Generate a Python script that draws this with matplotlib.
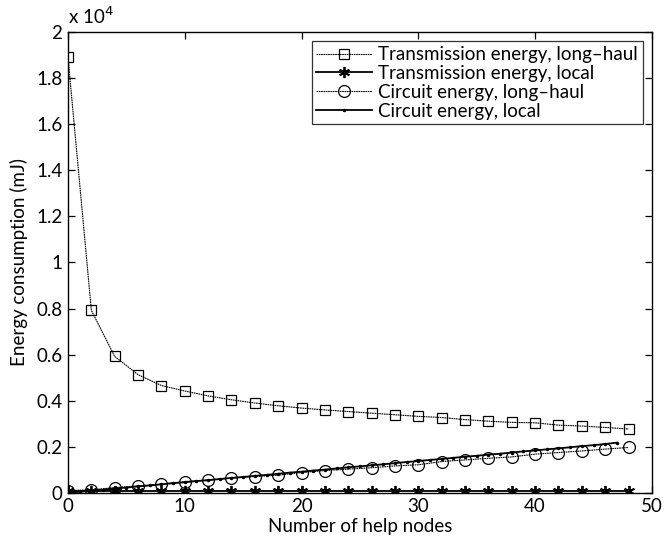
import matplotlib
matplotlib.use("Agg")
import matplotlib.pyplot as plt
from matplotlib.ticker import FixedLocator

plt.rcParams['font.family'] = ['Lato', 'DejaVu Sans']

# Data (mJ)
x_tx = [0, 2, 4, 6, 8, 10, 12, 14, 16, 18, 20, 22, 24, 26, 28, 30, 32, 34, 36, 38, 40, 42, 44, 46, 48]
tx_long = [18900, 7920, 5920, 5130, 4660, 4420, 4210, 4040, 3900, 3780, 3680, 3600, 3530, 3460, 3390,
           3320, 3270, 3180, 3110, 3060, 3040, 2940, 2900, 2840, 2770]
tx_local = [80, 80, 80, 80, 80, 80, 80, 80, 80, 80, 80, 80, 80, 80, 80, 80, 80, 80, 80, 80, 80, 80, 80, 80, 80]
circ_long = [100, 130, 230, 300, 380, 490, 560, 640, 710, 770, 880, 970, 1030, 1090, 1170, 1220,
             1360, 1430, 1500, 1560, 1680, 1750, 1820, 1900, 1970]
x_cl = list(range(0, 48))
circ_local = [0, 50, 90, 140, 190, 230, 280, 320, 370, 420, 460, 510, 550, 600, 650, 690,
              740, 780, 830, 880, 920, 970, 1010, 1060, 1110, 1150, 1200, 1240, 1290, 1340,
              1380, 1430, 1470, 1520, 1570, 1610, 1660, 1700, 1750, 1800, 1840, 1890, 1930,
              1980, 2030, 2070, 2120, 2180]

labels = ["Transmission energy, long\u2013haul", "Transmission energy, local",
          "Circuit energy, long\u2013haul", "Circuit energy, local"]

FS = 13.5
scale = 1e4
fig = plt.figure(figsize=(6.7, 5.44), dpi=100)
ax = fig.add_axes([0.1015, 0.094, 0.8715, 0.847])

ax.plot(x_tx, [v / scale for v in tx_long], color='black', lw=0.8, ls=(0, (1.5, 0.6)),
        marker='s', ms=7.5, mfc='none', mec='black', mew=0.9, label=labels[0])
ax.plot(x_tx, [v / scale for v in tx_local], color='black', lw=1.3,
        marker=(6, 2, 0), ms=8, mfc='black', mec='black', mew=1.3, label=labels[1])
ax.plot(x_tx, [v / scale for v in circ_long], color='black', lw=0.8, ls=(0, (1.5, 0.6)),
        marker='o', ms=8.5, mfc='none', mec='black', mew=0.9, label=labels[2])
ax.plot(x_cl, [v / scale for v in circ_local], color='black', lw=1.3,
        marker='.', ms=3, label=labels[3])

ax.set_xlim(0, 50)
ax.set_ylim(0, 2)
ax.xaxis.set_major_locator(FixedLocator([0, 10, 20, 30, 40, 50]))
yt = [0, 0.2, 0.4, 0.6, 0.8, 1.0, 1.2, 1.4, 1.6, 1.8, 2.0]
ax.yaxis.set_major_locator(FixedLocator(yt))
ax.set_yticklabels(["0", "0.2", "0.4", "0.6", "0.8", "1", "1.2", "1.4", "1.6", "1.8", "2"])
ax.tick_params(direction='in', top=True, right=True, length=5, width=0.9, labelsize=FS, pad=4)
for s in ax.spines.values():
    s.set_linewidth(1.0)

ax.set_xlabel("Number of help nodes", fontsize=FS, labelpad=2)
ax.set_ylabel("Energy consumption (mJ)", fontsize=FS, labelpad=6)
ax.text(0.0, 1.01, "x 10$^{4}$", transform=ax.transAxes, fontsize=FS, ha='left', va='bottom')

leg = ax.legend(loc='upper right', fontsize=FS, frameon=True, fancybox=False,
                edgecolor='black', handlelength=3.0, borderaxespad=0.5,
                labelspacing=0.1, handletextpad=0.3, borderpad=0.25)
leg.get_frame().set_linewidth(0.9)

fig.savefig("out.png", dpi=100)
